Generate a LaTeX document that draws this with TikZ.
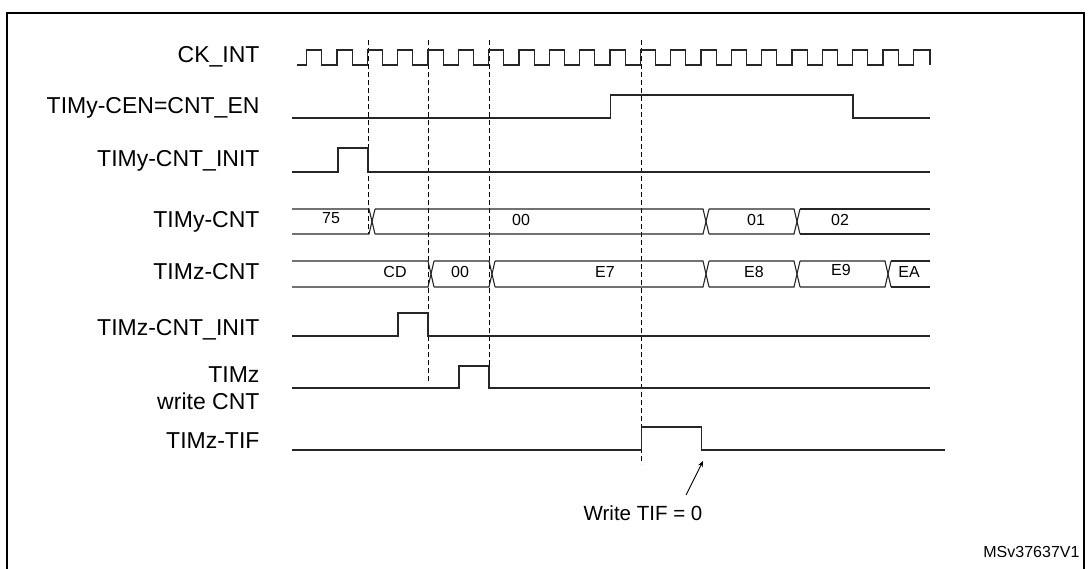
\documentclass[tikz,border=0pt]{standalone}
\usepackage{fontspec}
\setmainfont{Liberation Sans}
\usetikzlibrary{arrows.meta}
\begin{document}
\begin{tikzpicture}[x=1pt,y=-1pt,
  sig/.style={line width=1.1pt,black!85},
  guide/.style={line width=0.9pt,dash pattern=on 5pt off 3pt},
  lab/.style={anchor=east,font=\fontsize{23}{25}\selectfont,align=right},
  val/.style={font=\fontsize{16}{18}\selectfont}]
\useasboundingbox (0,0) rectangle (1089,569);
\draw[line width=1.2pt] (7,569) -- (7,13) -- (1084,13) -- (1084,569);
% labels
\node[lab] (l1) at (263,57) {CK\_INT};
\node[lab] (l2) at (263,108) {TIMy-CEN=CNT\_EN};
\node[lab] (l3) at (263,161) {TIMy-CNT\_INIT};
\node[lab] (l4) at (263,222) {TIMy-CNT};
\node[lab] (l5) at (263,272) {TIMz-CNT};
\node[lab] (l6) at (263,330) {TIMz-CNT\_INIT};
\node[lab,font=\fontsize{23}{27}\selectfont] (l7) at (263,388) {TIMz\\write CNT};
\node[lab] (l8) at (263,441) {TIMz-TIF};
% guides
\draw[guide] (368,40) -- (368,234);
\draw[guide] (428,40) -- (428,382);
\draw[guide] (489,40) -- (489,388);
\draw[guide] (641,40) -- (641,464);
% clock
\def\p{30.33}
\draw[sig] (297,65) -- (306.7,65)
  \foreach \i in {0,...,19} { -- ({306.7+\i*\p},65) -- ({306.7+\i*\p},50) -- ({306.7+\i*\p+\p/2},50) -- ({306.7+\i*\p+\p/2},65) -- ({306.7+(\i+1)*\p},65)}
  -- ({306.7+20*\p},50) -- (930,50) -- (930,65);
% CEN
\draw[sig] (292,118) -- (610.5,118) -- (610.5,95) -- (853,95) -- (853,118) -- (930,118);
% TIMy-CNT_INIT
\draw[sig] (292,172) -- (338,172) -- (338,148) -- (368,148) -- (368,172) -- (930,172);
% bus macro
\newcommand\busdraw[4]{%
  \def\bt{#1}\def\bb{#2}\gdef\prev{292}
  \foreach \t in {#3} {
    \draw[sig] (\prev,\bt) -- (\t-3,\bt) -- (\t+3,\bb);
    \draw[sig] (\prev,\bb) -- (\t-3,\bb) -- (\t+3,\bt);
    \xdef\prev{\t+3}
  }
  \draw[sig] (\prev,\bt) -- (#4,\bt);
  \draw[sig] (\prev,\bb) -- (#4,\bb);}
\busdraw{209}{234}{372,706,797}{930}
\node[val] (v1) at (331,218) {75};
\node[val] (v2) at (521,220) {00};
\node[val] (v3) at (756,220) {01};
\node[val] (v4) at (840,220) {02};
\busdraw{261}{287}{431,492,706,797,888}{930}
\node[val] (w1) at (395,272) {CD};
\node[val] (w2) at (460,272) {00};
\node[val] (w3) at (605,272) {E7};
\node[val] (w4) at (754,272) {E8};
\node[val] (w5) at (841,270) {E9};
\node[val] (w6) at (909,272) {EA};
% TIMz-CNT_INIT
\draw[sig] (292,336) -- (398,336) -- (398,313) -- (428,313) -- (428,336) -- (930,336);
% write CNT
\draw[sig] (292,388) -- (459,388) -- (459,366) -- (489,366) -- (489,388) -- (930,388);
% TIF
\draw[sig] (292,450) -- (641.5,450) -- (641.5,427) -- (701.5,427) -- (701.5,450) -- (945,450);
\node[font=\fontsize{20.5}{22}\selectfont] (wt) at (643,513) {Write TIF = 0};
\coordinate (tip) at (703,461);
\draw[line width=0.9pt,-{Stealth[length=6pt,width=5pt]}] (686,495) -- (tip);
\node[anchor=east,font=\fontsize{16}{18}\selectfont] (ms) at (1083,552) {MSv37637V1};
\end{tikzpicture}
\end{document}
